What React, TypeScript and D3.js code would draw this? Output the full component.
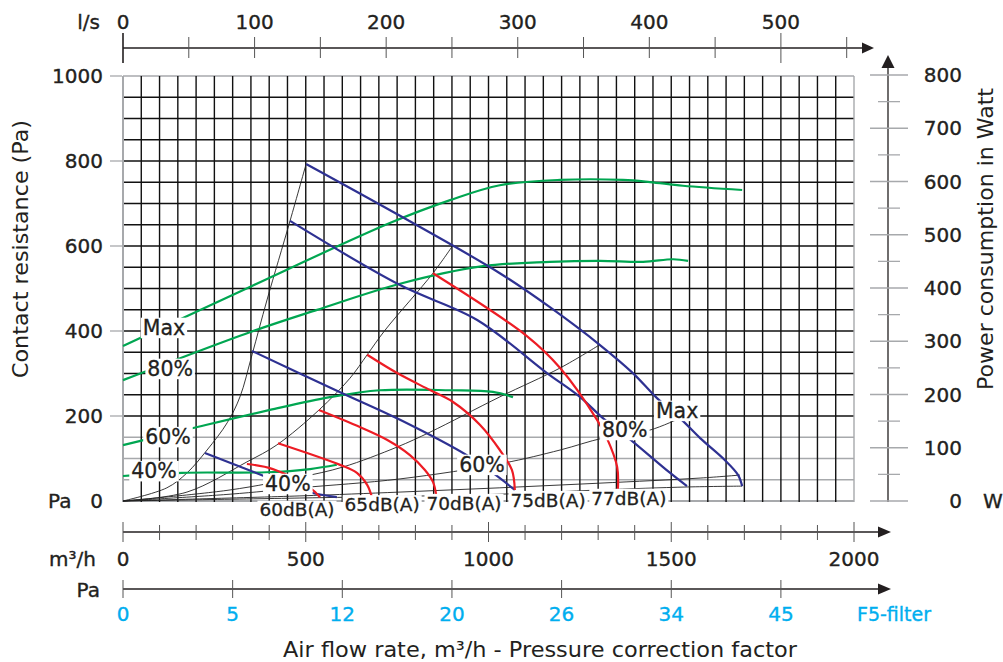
import React from 'react';
import * as d3 from 'd3';

type Pt = [number, number];

// ---- axis ticks ----
const flowMajorTicks = [0, 500, 1000, 1500, 2000];
const lpsTicks = [0, 100, 200, 300, 400, 500];
const paTicks = [200, 400, 600, 800, 1000];
const wattTicks = [100, 200, 300, 400, 500, 600, 700, 800];
const correctionFlows = [0, 300, 600, 900, 1200, 1500, 1800];
const correctionLabels = ['0', '5', '12', '20', '26', '34', '45'];

// ---- power consumption (W) vs flow (m3/h) ----
const powerMax: Pt[] = [[0, 291], [347, 402], [730, 522], [895, 565], [1031, 593], [1196, 603], [1368, 603], [1442, 599], [1532, 592], [1694, 584]];
const power80: Pt[] = [[0, 227], [347, 317], [531, 359], [758, 408], [985, 441], [1168, 449], [1305, 451], [1423, 449], [1505, 454], [1546, 451]];
const power60: Pt[] = [[0, 105], [192, 137], [402, 171], [566, 195], [703, 208], [895, 208], [1012, 205], [1067, 195]];
const power40: Pt[] = [[0, 47], [161, 53], [394, 54], [512, 60], [585, 68]];

// ---- fan curves (Pa) vs flow (m3/h) ----
const fanMax: Pt[] = [[501, 793], [758, 671], [1031, 536], [1168, 456], [1305, 367], [1395, 301], [1461, 242], [1524, 195], [1579, 148], [1647, 96], [1683, 61], [1694, 35]];
const fan80: Pt[] = [[457, 659], [758, 508], [969, 426], [1160, 301], [1250, 245], [1313, 195], [1379, 151], [1497, 66], [1543, 35]];
const fan60: Pt[] = [[353, 353], [594, 256], [758, 191], [944, 106], [1012, 66], [1072, 26]];
const fan40: Pt[] = [[224, 113], [394, 56], [492, 24], [585, 9]];

// ---- sound level isolines (Pa) ----
const sound60: Pt[] = [[339, 87], [410, 75], [512, 31], [539, 9]];
const sound65: Pt[] = [[424, 136], [594, 85], [640, 66], [668, 38], [681, 9]];
const sound70: Pt[] = [[536, 214], [648, 174], [722, 144], [785, 108], [826, 73], [848, 45], [857, 14]];
const sound75: Pt[] = [[668, 344], [750, 301], [840, 261], [903, 233], [977, 179], [1031, 120], [1064, 73], [1072, 26]];
const sound77: Pt[] = [[848, 536], [1105, 388], [1196, 313], [1297, 191], [1324, 148], [1352, 80], [1354, 28]];

// ---- system curves (Pa) ----
const system1: Pt[] = [[0, 0], [120, 31], [175, 66], [230, 120], [285, 184], [320, 245], [353, 344], [394, 473], [457, 659], [501, 793]];
const system2: Pt[] = [[0, 0], [175, 21], [339, 92], [421, 132], [536, 214], [621, 289], [668, 344], [717, 402], [848, 536], [903, 602]];
const system3: Pt[] = [[0, 0], [293, 26], [484, 56], [602, 80], [750, 127], [840, 162], [1031, 245], [1196, 313], [1305, 368]];
const system4: Pt[] = [[0, 0], [293, 16], [484, 31], [758, 52], [1040, 89], [1196, 120], [1313, 148], [1442, 167], [1524, 195]];
const system5: Pt[] = [[0, 0], [484, 12], [758, 21], [1031, 31], [1305, 42], [1579, 54], [1688, 61]];
const system6: Pt[] = [[0, 0], [484, 7], [1031, 16], [1305, 26], [1543, 33], [1694, 35]];

// ---- curve labels ----
const powerLabelText = ['Max', '80%', '60%', '40%'];
const powerLabelAt: Pt[] = [[112, 325], [129, 248], [123, 120], [85, 56]];
const fanLabelText = ['40%', '60%', '80%', 'Max'];
const fanLabelAt: Pt[] = [[451, 40], [982, 85], [1373, 167], [1516, 212]];
const soundLabelText = ['60dB(A)', '65dB(A)', '70dB(A)', '75dB(A)', '77dB(A)'];
const soundLabelAt: Pt[] = [[476, -21], [709, -8], [933, -5], [1163, 2], [1384, 7]];

const FONT = 'DejaVu Sans';
const TXT = '#231f20';
const GREEN = '#00a651';
const BLUE = '#2e3192';
const RED = '#ed1c24';
const CYAN = '#00aeef';
const GREY = '#a7a9ac';

function measure(t: string, size: number) {
  const c = document.createElement('canvas').getContext('2d');
  if (!c) return t.length * size * 0.6;
  c.font = `${size}px "${FONT}"`;
  return c.measureText(t).width;
}

export default function App() {
  const x = d3.scaleLinear().domain([0, 2000]).range([123, 854]);
  const yPa = d3.scaleLinear().domain([0, 1000]).range([501, 76]);
  const yW = d3.scaleLinear().domain([0, 800]).range([501, 75]);
  const xLps = d3.scaleLinear().domain([0, 2000 / 3.6]).range([123, 854]);

  const linePa = d3.line<Pt>().x(d => x(d[0])).y(d => yPa(d[1])).curve(d3.curveCatmullRom.alpha(0.5));
  const lineW = d3.line<Pt>().x(d => x(d[0])).y(d => yW(d[1])).curve(d3.curveCatmullRom.alpha(0.5));

  const vGrid = d3.range(0, 2001, 50);
  const hGrid = d3.range(0, 1001, 50);
  const flowMinor = d3.range(0, 2001, 100);
  const lpsMinor = d3.range(0, 551, 50);
  const wattMinor = d3.range(0, 801, 50);

  const tickText = { fontSize: 20, fill: TXT, stroke: TXT, strokeWidth: 0.35 };

  const label = (t: string, cx: number, cy: number, size: number, key: string) => {
    const w = measure(t, size);
    return (
      <g key={key}>
        <rect x={cx - w / 2 - 2} y={cy - size * 0.5} width={w + 4} height={size} fill="#fff" />
        <text x={cx} y={cy} textAnchor="middle" dominantBaseline="central" fontSize={size} fill={TXT} stroke={TXT} strokeWidth={0.3}>{t}</text>
      </g>
    );
  };

  return (
    <svg width={1003} height={662} style={{ position: 'absolute', left: 0, top: 0, background: '#fff' }} fontFamily={FONT}>
      <rect x={0} y={0} width={1003} height={662} fill="#fff" />
      {/* grid */}
      {hGrid.map(v => (
        <line key={'h' + v} x1={x(0)} x2={x(2000)} y1={yPa(v)} y2={yPa(v)}
          stroke={v === 1000 || v <= 150 ? GREY : '#111'} strokeWidth={v === 0 ? 2 : 1.4} />
      ))}
      {vGrid.map(v => (
        <line key={'v' + v} x1={x(v)} x2={x(v)} y1={yPa(1000)} y2={yPa(0) + 1}
          stroke={v === 0 || v === 2000 ? GREY : '#111'} strokeWidth={v === 0 ? 2 : 1.4} />
      ))}

      {/* system curves */}
      {[system1, system2, system3, system4, system5, system6].map((s, i) => (
        <path key={'s' + i} d={linePa(s) || ''} fill="none" stroke="#222" strokeWidth={0.9} />
      ))}

      {/* power curves */}
      {[powerMax, power80, power60, power40].map((s, i) => (
        <path key={'p' + i} d={lineW(s) || ''} fill="none" stroke={GREEN} strokeWidth={2.2} />
      ))}
      {/* fan curves */}
      {[fanMax, fan80, fan60, fan40].map((s, i) => (
        <path key={'f' + i} d={linePa(s) || ''} fill="none" stroke={BLUE} strokeWidth={2.2} />
      ))}
      {/* sound curves */}
      {[sound60, sound65, sound70, sound75, sound77].map((s, i) => (
        <path key={'d' + i} d={linePa(s) || ''} fill="none" stroke={RED} strokeWidth={2.2} />
      ))}

      {/* labels */}
      {powerLabelText.map((t, i) => label(t, x(powerLabelAt[i][0]), yW(powerLabelAt[i][1]), 20.5, 'pl' + i))}
      {fanLabelText.map((t, i) => label(t, x(fanLabelAt[i][0]), yPa(fanLabelAt[i][1]), 20.5, 'fl' + i))}
      {soundLabelText.map((t, i) => label(t, x(soundLabelAt[i][0]), yPa(soundLabelAt[i][1]), 18.5, 'sl' + i))}

      {/* left axis */}
      {paTicks.map(v => (
        <g key={'pa' + v}>
          <line x1={110} x2={122} y1={yPa(v)} y2={yPa(v)} stroke={GREY} strokeWidth={1.3} />
          <text x={103} y={yPa(v)} textAnchor="end" dominantBaseline="central" {...tickText}>{v}</text>
        </g>
      ))}
      <text x={103} y={yPa(0)} textAnchor="end" dominantBaseline="central" {...tickText}>0</text>
      <text x={48} y={yPa(0)} dominantBaseline="central" {...tickText}>Pa</text>
      <text transform={`translate(21,249) rotate(-90)`} textAnchor="middle" dominantBaseline="central" fontSize={21} fill={TXT} textLength={258} lengthAdjust="spacingAndGlyphs">Contact resistance (Pa)</text>

      {/* top axis l/s */}
      <line x1={123} x2={866} y1={48} y2={48} stroke={TXT} strokeWidth={1.3} />
      <path d="M862,42.5 L874,48 L862,53.5 Z" fill={TXT} />
      {lpsMinor.map(v => (
        <line key={'ls' + v} x1={xLps(v)} x2={xLps(v)} y1={v === 0 || v === 500 ? 33 : 37} y2={v === 0 || v === 500 ? 63 : 58}
          stroke={v === 0 ? TXT : '#555'} strokeWidth={v === 0 ? 1.6 : 1} />
      ))}
      {lpsTicks.map(v => (
        <text key={'lt' + v} x={xLps(v)} y={22} textAnchor="middle" dominantBaseline="central" {...tickText}>{v}</text>
      ))}
      <text x={100} y={22} textAnchor="end" dominantBaseline="central" {...tickText}>l/s</text>

      {/* right axis W */}
      <line x1={888} x2={888} y1={64} y2={502} stroke={TXT} strokeWidth={1.3} />
      <path d="M881.5,68 L888,55 L894.5,68 Z" fill={TXT} />
      {wattMinor.map(v => {
        const major = v % 100 === 0;
        return <line key={'wm' + v} x1={major ? 870 : 878} x2={major ? 908 : 900} y1={yW(v)} y2={yW(v)} stroke={GREY} strokeWidth={1.3} />;
      })}
      {wattTicks.map(v => (
        <text key={'wt' + v} x={962} y={yW(v)} textAnchor="end" dominantBaseline="central" {...tickText}>{v}</text>
      ))}
      <text x={962} y={yW(0)} textAnchor="end" dominantBaseline="central" {...tickText}>0</text>
      <text x={983} y={yW(0)} dominantBaseline="central" {...tickText}>W</text>
      <text transform={`translate(986,239) rotate(-90)`} textAnchor="middle" dominantBaseline="central" fontSize={21} fill={TXT} textLength={302} lengthAdjust="spacingAndGlyphs">Power consumption in Watt</text>

      {/* bottom axis m3/h */}
      <line x1={123} x2={882} y1={532} y2={532} stroke={TXT} strokeWidth={1.3} />
      <path d="M878,526.5 L891,532 L878,537.5 Z" fill={TXT} />
      {flowMinor.map(v => {
        const major = v % 500 === 0;
        return <line key={'fm' + v} x1={x(v)} x2={x(v)} y1={major ? 522 : 525} y2={major ? 542 : 540} stroke="#555" strokeWidth={1} />;
      })}
      {flowMajorTicks.map(v => (
        <text key={'ft' + v} x={x(v)} y={559} textAnchor="middle" dominantBaseline="central" {...tickText}>{v}</text>
      ))}
      <text x={96} y={559} textAnchor="end" dominantBaseline="central" {...tickText}>m³/h</text>

      {/* bottom axis correction */}
      <line x1={123} x2={882} y1={589} y2={589} stroke={TXT} strokeWidth={1.3} />
      <path d="M878,583.5 L891,589 L878,594.5 Z" fill={TXT} />
      {correctionFlows.map((v, i) => (
        <g key={'cf' + v}>
          <line x1={x(v)} x2={x(v)} y1={580} y2={598} stroke="#555" strokeWidth={1} />
          <text x={x(v)} y={614} textAnchor="middle" dominantBaseline="central" fontSize={20} fill={CYAN} stroke={CYAN} strokeWidth={0.35}>{correctionLabels[i]}</text>
        </g>
      ))}
      <text x={100} y={590} textAnchor="end" dominantBaseline="central" {...tickText}>Pa</text>
      <text x={857} y={614} dominantBaseline="central" fontSize={19} fill={CYAN} stroke={CYAN} strokeWidth={0.35}>F5-filter</text>

      <text x={540} y={649} textAnchor="middle" dominantBaseline="central" fontSize={22} fill={TXT} textLength={514} lengthAdjust="spacingAndGlyphs">Air flow rate, m³/h - Pressure correction factor</text>
    </svg>
  );
}
